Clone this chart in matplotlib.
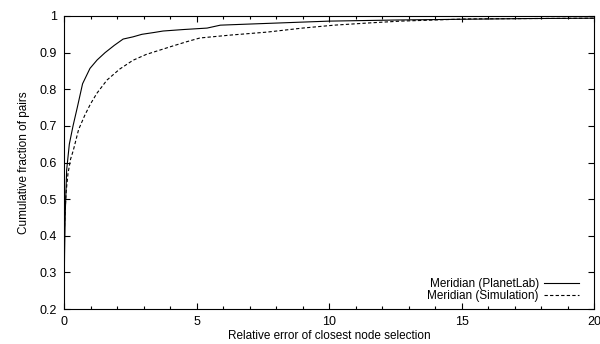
import matplotlib
matplotlib.use('Agg')
import matplotlib.pyplot as plt
from matplotlib.ticker import MultipleLocator

plt.rcParams['font.family'] = 'Liberation Sans'
plt.rcParams['font.size'] = 8.5

# values
planetlab_x = [0, 0.02, 0.05, 0.1, 0.2, 0.34, 0.5, 0.7, 0.98, 1.25, 1.55, 1.9, 2.23, 2.6, 2.94,
               3.4, 3.74, 4.5, 5.4, 5.9, 7.0, 8.5, 10.0, 12.5, 14.9, 17.5, 20]
planetlab_y = [0.22, 0.35, 0.47, 0.58, 0.65, 0.70, 0.75, 0.815, 0.857, 0.88, 0.90, 0.92, 0.937, 0.943, 0.95,
               0.955, 0.959, 0.963, 0.967, 0.975, 0.978, 0.982, 0.986, 0.989, 0.991, 0.993, 0.994]
sim_x = [0, 0.03, 0.08, 0.15, 0.25, 0.35, 0.55, 0.79, 1.0, 1.24, 1.62, 2.1, 2.6, 3.1, 3.62,
         4.1, 4.64, 5.13, 6.3, 7.66, 9.0, 10.2, 11.5, 12.7, 15.2, 17.5, 20]
sim_y = [0.38, 0.45, 0.52, 0.57, 0.61, 0.633, 0.69, 0.73, 0.76, 0.789, 0.825, 0.855, 0.879, 0.895, 0.907,
         0.918, 0.93, 0.94, 0.948, 0.956, 0.967, 0.975, 0.981, 0.986, 0.992, 0.993, 0.994]

fig = plt.figure(figsize=(6.0, 3.44), dpi=100)
ax = fig.add_axes([0.1067, 0.1017, 0.8833, 0.8518])

ax.plot(planetlab_x, planetlab_y, color='black', lw=0.8, label='Meridian (PlanetLab)')
ax.plot(sim_x, sim_y, color='black', lw=0.8, dashes=(3, 2), label='Meridian (Simulation)')

ax.set_xlim(0, 20)
ax.set_ylim(0.2, 1.0)
ax.xaxis.set_major_locator(MultipleLocator(5))
ax.xaxis.set_minor_locator(MultipleLocator(1))
ax.set_yticks([0.2, 0.3, 0.4, 0.5, 0.6, 0.7, 0.8, 0.9, 1.0])
ax.set_yticklabels(['0.2', '0.3', '0.4', '0.5', '0.6', '0.7', '0.8', '0.9', '1'])
ax.tick_params(which='both', direction='in', top=True, right=True, labelsize=9)
ax.tick_params(axis='x', pad=5)
ax.tick_params(axis='y', pad=5)
ax.tick_params(which='major', length=4, width=0.8)
ax.tick_params(which='minor', length=2.5, width=0.8)
for s in ax.spines.values():
    s.set_linewidth(0.8)

ax.set_xlabel('Relative error of closest node selection', fontsize=8.5, labelpad=1.5)
ax.set_ylabel('Cumulative fraction of pairs', fontsize=8.5, labelpad=7)

leg = ax.legend(loc='lower right', frameon=False, markerfirst=False, fontsize=8.5,
                handlelength=3.0, handletextpad=0.4, labelspacing=0.0,
                borderaxespad=0.2, bbox_to_anchor=(0.985, 0.0))
for t in leg.get_texts():
    t.set_ha('right')

fig.savefig('out.png', dpi=100)
